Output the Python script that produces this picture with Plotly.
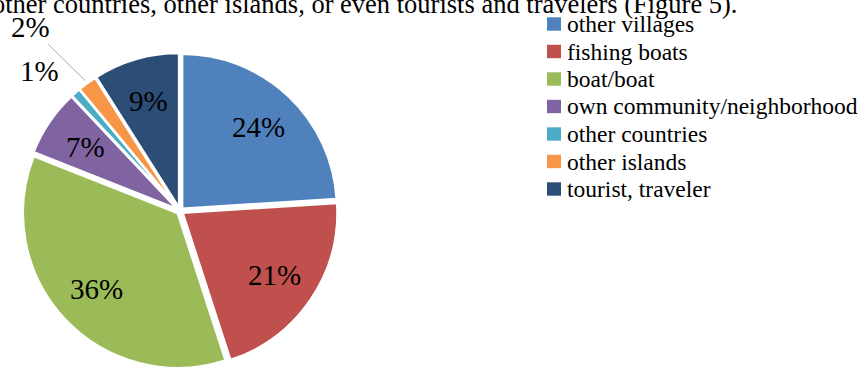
import math
import plotly.graph_objects as go

# Where respondents get their information (shares, %)
categories = [
    "other villages",
    "fishing boats",
    "boat/boat",
    "own community/neighborhood",
    "other countries",
    "other islands",
    "tourist, traveler",
]
shares = [24, 21, 36, 7, 1, 2, 9]
colors = ["#4F81BD", "#C0504D", "#9BBB59", "#8064A2", "#4BACC6", "#F79646", "#2C4D75"]
percent_labels = [f"{v}%" for v in shares]

W, H = 864, 369
SERIF = "Liberation Serif"
PULL = 0.02

# square pie box (pixels): centre and side
cx, cy, box = 180, 211, 316
R = box / (2 * (1 + PULL))


def px(x):
    return x / W


def py(y):
    return 1 - y / H


fig = go.Figure(
    go.Pie(
        labels=categories,
        values=shares,
        sort=False,
        direction="clockwise",
        rotation=0,
        pull=PULL,
        marker=dict(colors=colors, line=dict(color="white", width=2.5)),
        textinfo="none",
        domain=dict(x=[px(cx - box / 2), px(cx + box / 2)],
                    y=[py(cy + box / 2), py(cy - box / 2)]),
        hoverinfo="label+percent",
        showlegend=False,
    )
)

# percentage labels placed along each slice's bisector
total = sum(shares)
start = 0.0
label_font = dict(family=SERIF, size=29, color="black")
for i, v in enumerate(shares):
    theta = 2 * math.pi * (start + v / 2) / total
    start += v
    s, c = math.sin(theta), math.cos(theta)
    if v >= 5:
        k = 0.74
        fig.add_annotation(
            x=px(cx + k * R * s), y=py(cy - k * R * c),
            xref="paper", yref="paper", text=percent_labels[i],
            showarrow=False, xanchor="center", yanchor="middle", font=label_font,
        )
    elif v == 1:
        k = 1.27
        fig.add_annotation(
            x=px(cx + k * R * s), y=py(cy - k * R * c),
            xref="paper", yref="paper", text=percent_labels[i],
            showarrow=False, xanchor="center", yanchor="middle",
            xshift=-10, yshift=-8, font=label_font,
        )
    else:
        k = 1.04
        fig.add_annotation(
            x=px(cx + k * R * s), y=py(cy - k * R * c),
            xref="paper", yref="paper", text=percent_labels[i],
            showarrow=True, arrowhead=0, arrowwidth=1, arrowcolor="#A6A6A6",
            ax=-55, ay=-54, standoff=0, font=label_font,
        )

# legend: colour squares with category names
leg_x, leg_y0, leg_dy, sq = 547, 24, 27.5, 14
for i, (name, col) in enumerate(zip(categories, colors)):
    yc = leg_y0 + leg_dy * i
    fig.add_shape(
        type="rect", xref="paper", yref="paper",
        x0=px(leg_x), x1=px(leg_x + sq), y0=py(yc + 6.7), y1=py(yc - 6.7),
        fillcolor=col, line=dict(width=0),
    )
    fig.add_annotation(
        x=px(leg_x + sq + 4), y=py(yc), xref="paper", yref="paper",
        text=name, showarrow=False, xanchor="left", yanchor="middle",
        font=dict(family=SERIF, size=23.5, color="black"),
    )

# running text of the page above the figure
fig.add_annotation(
    text="other countries, other islands, or even tourists and travelers (Figure 5).",
    xref="paper", yref="paper",
    x=px(-10), y=py(21),
    xanchor="left", yanchor="bottom",
    showarrow=False,
    font=dict(family=SERIF, size=26.5, color="black"),
)

fig.update_layout(
    width=W,
    height=H,
    margin=dict(l=0, r=0, t=0, b=0, autoexpand=False),
    paper_bgcolor="white",
    plot_bgcolor="white",
    showlegend=False,
)

fig.write_html("out.html")
